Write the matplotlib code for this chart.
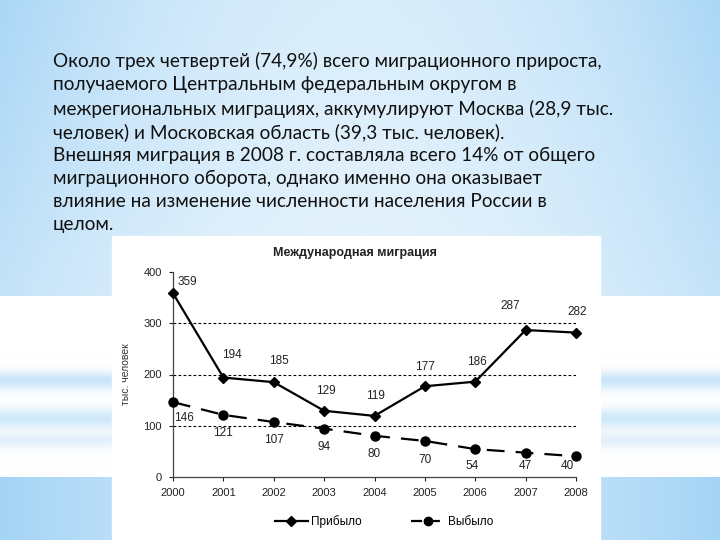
import numpy as np
import matplotlib
matplotlib.use("Agg")
import matplotlib.pyplot as plt
from matplotlib.lines import Line2D

# data
years = [2000, 2001, 2002, 2003, 2004, 2005, 2006, 2007, 2008]
arrived = [359, 194, 185, 129, 119, 177, 186, 287, 282]
departed = [146, 121, 107, 94, 80, 70, 54, 47, 40]
y_ticks = [0, 100, 200, 300, 400]

# label offsets (points) for the value labels
arrived_offsets = [(10, 8), (6, 16), (4, 15), (1, 14), (1, 14), (0, 14), (1, 14), (-11, 17), (1, 15)]
departed_offsets = [(8, -11.5), (0, -13), (0, -12.7), (0, -13), (0, -13), (0, -13.7), (-2.6, -12.2), (0, -9.4), (-6.5, -6.7)]

slide_lines = [
    "Около трех четвертей (74,9%) всего миграционного прироста,",
    "получаемого Центральным федеральным округом в",
    "межрегиональных миграциях, аккумулируют Москва (28,9 тыс.",
    "человек) и Московская область (39,3 тыс. человек).",
    "Внешняя миграция в 2008 г. составляла всего 14% от общего",
    "миграционного оборота, однако именно она оказывает",
    "влияние на изменение численности населения России в",
    "целом.",
]

W, H = 720, 540
fig = plt.figure(figsize=(7.2, 5.4), dpi=100)

# slide background: light blue gradient with white band and stripes
yy, xx = np.mgrid[0:H, 0:W]
edge = np.abs(xx - 360) / 360.0
blue = np.array([160, 210, 245]) / 255.0
strength = np.zeros((H, W))
top = yy < 296
strength[top] = (0.4 + 0.5 * edge[top] ** 2) * (1 - 0.3 * yy[top] / 296)
bottom = yy >= 477
strength[bottom] = 0.45 + 0.5 * edge[bottom] ** 1.5
mid = (yy >= 352) & (yy < 472)
stripe = (0.55 * np.exp(-((yy - 380) / 9.0) ** 2)
          + 0.5 * np.exp(-((yy - 418) / 10.0) ** 2)
          + 0.3 * np.exp(-((yy - 440) / 8.0) ** 2))
strength[mid] = stripe[mid]
strength = np.clip(strength, 0, 1)[..., None]
bg = (1 - strength) * 1.0 + strength * blue
ax_bg = fig.add_axes([0, 0, 1, 1])
ax_bg.imshow(bg, extent=[0, W, H, 0], aspect="auto", zorder=0)
ax_bg.set_xlim(0, W)
ax_bg.set_ylim(H, 0)
ax_bg.axis("off")

# white chart picture
ax_bg.add_patch(plt.Rectangle((112, 236), 488, 304, color="white", zorder=1))

# slide text, one line at a time; size fitted so the first line is ~552 px wide
renderer = fig.canvas.get_renderer()
probe = fig.text(0, 0, slide_lines[0], fontsize=14, family="Lato")
w = probe.get_window_extent(renderer).width
probe.remove()
fs = 14 * 552 / w
line_y = [59, 83, 107, 131, 154, 177, 200, 223]
for txt, y in zip(slide_lines, line_y):
    fig.text(53 / W, 1 - y / H, txt, ha="left", va="center_baseline",
             fontsize=fs, family="Lato", color="#111111")

fig.text(355 / W, 1 - 253 / H, "Международная миграция", ha="center", va="center",
         fontsize=9, fontweight="bold", family="Liberation Sans", color="#222222")

ax = fig.add_axes([173 / W, 1 - 476.7 / H, (576 - 173) / W, (476.7 - 272.3) / H])
ax.patch.set_alpha(0)
ax.plot(years, arrived, color="black", lw=1.6, marker="D", ms=5.5, clip_on=False, zorder=3)
ax.plot(years, departed, color="black", lw=1.6, marker="o", ms=6.5, dashes=(8, 5),
        clip_on=False, zorder=3)

for x, v, off in zip(years, arrived, arrived_offsets):
    ax.annotate(str(v), (x, v), xytext=off, textcoords="offset points",
                ha="center", va="center", fontsize=8.5, family="Liberation Sans", color="#222222")
for x, v, off in zip(years, departed, departed_offsets):
    ax.annotate(str(v), (x, v), xytext=off, textcoords="offset points",
                ha="center", va="center", fontsize=8.5, family="Liberation Sans", color="#222222")

ax.set_xlim(2000, 2008)
ax.set_ylim(0, 400)
ax.set_xticks(years)
ax.set_yticks(y_ticks)
ax.tick_params(labelsize=8, length=3, width=0.8, colors="#222222", pad=5)
for lab in ax.get_xticklabels() + ax.get_yticklabels():
    lab.set_family("Liberation Sans")
for v in y_ticks[1:4]:
    ax.axhline(v, color="black", lw=0.8, ls=(0, (2.5, 2)), zorder=1)
for s in ["top", "right"]:
    ax.spines[s].set_visible(False)
for s in ["left", "bottom"]:
    ax.spines[s].set_color("#444444")
    ax.spines[s].set_linewidth(0.9)
ax.set_ylabel("тыс. человек", fontsize=7.5, family="Liberation Sans", color="#333333", labelpad=9)

handles = [Line2D([], [], color="black", lw=1.6, marker="D", ms=5),
           Line2D([], [], color="black", lw=1.6, marker="o", ms=6, dashes=(5, 3))]
fig.legend(handles, ["Прибыло", "Выбыло"], loc="center", ncol=2,
           bbox_to_anchor=(384 / W, 1 - 522 / H), frameon=False, columnspacing=4.2,
           handlelength=2.8, handletextpad=0.3, prop={"family": "Liberation Sans", "size": 8.5})

fig.savefig("out.png", dpi=100)
